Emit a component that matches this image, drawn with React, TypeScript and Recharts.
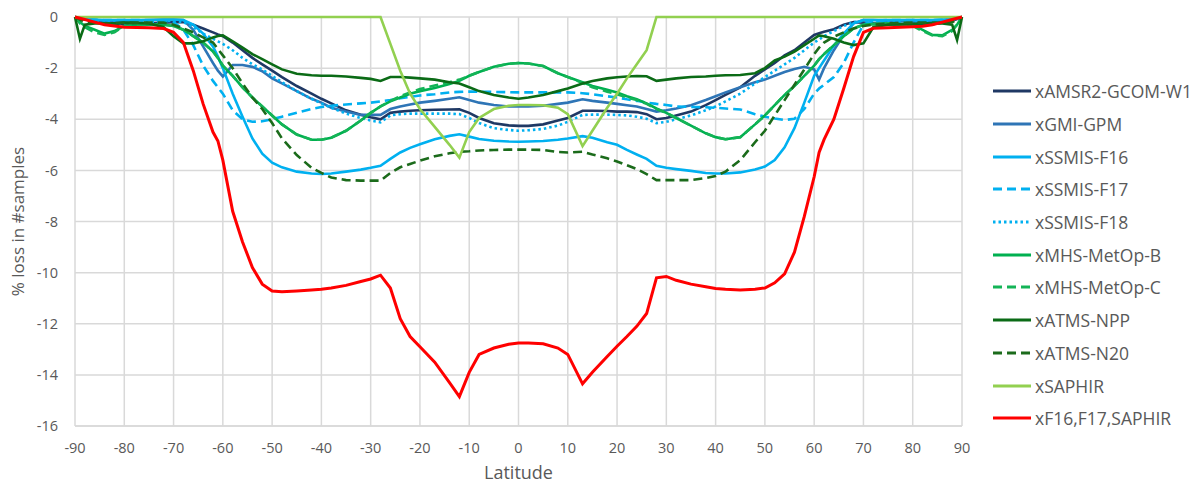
import { LineChart, Line, XAxis, YAxis, CartesianGrid, Legend } from "recharts";

const FONT = "'Open Sans', sans-serif";
const TEXT = "#595959";
const GRID = "#D9D9D9";

// latitude samples (degrees)
const LAT = [
  -90, -89, -88, -86, -84, -82, -80, -75, -72, -70,
  -68, -66, -64, -62, -61, -60, -58, -56, -54, -52,
  -50, -48, -45, -42, -40, -38, -35, -32, -30, -28,
  -26, -24, -22, -20, -17, -14, -12, -10, -8, -5,
  -2, 0, 2, 5, 8, 10, 13, 15, 18, 20,
  22, 24, 26, 28, 30, 32, 35, 38, 40, 42,
  45, 48, 50, 52, 54, 56, 58, 60, 61, 62,
  64, 66, 68, 70, 72, 75, 80, 82, 84, 86,
  88, 89, 90,
];

const AMSR2 = [
  0, -0.05, -0.1, -0.15, -0.2, -0.25, -0.28, -0.25, -0.22, -0.2,
  -0.2, -0.3, -0.45, -0.6, -0.68, -0.75, -1.0, -1.3, -1.6, -1.85,
  -2.1, -2.35, -2.7, -3.0, -3.2, -3.38, -3.65, -3.82, -3.92, -4.0,
  -3.75, -3.7, -3.67, -3.65, -3.63, -3.62, -3.61, -3.75, -3.95, -4.16,
  -4.24, -4.26, -4.26, -4.2, -4.05, -3.95, -3.67, -3.67, -3.68, -3.7,
  -3.7, -3.72, -3.8, -4.0, -3.95, -3.85, -3.7, -3.45, -3.25, -3.05,
  -2.75, -2.3, -2.05, -1.8, -1.5, -1.3, -1.0, -0.7, -0.64, -0.58,
  -0.48, -0.3, -0.2, -0.22, -0.25, -0.28, -0.3, -0.3, -0.28, -0.22,
  -0.15, -0.08, 0,
];

const GMI = [
  0, -0.05, -0.1, -0.12, -0.15, -0.15, -0.15, -0.12, -0.1, -0.1,
  -0.12, -0.5, -1.15, -1.8, -2.1, -2.33, -1.88, -1.88, -1.95, -2.12,
  -2.4, -2.6, -2.9, -3.2, -3.35, -3.55, -3.7, -3.83, -3.83, -3.83,
  -3.6, -3.5, -3.42, -3.35, -3.28, -3.2, -3.14, -3.25, -3.35, -3.44,
  -3.5, -3.5, -3.5, -3.47, -3.4, -3.35, -3.22, -3.28, -3.35, -3.4,
  -3.45, -3.5, -3.6, -3.7, -3.65, -3.58, -3.45, -3.25, -3.1, -2.95,
  -2.75, -2.55, -2.45, -2.3, -2.15, -2.03, -1.95, -2.05, -2.45, -2.0,
  -1.3, -0.7, -0.25, -0.12, -0.12, -0.15, -0.18, -0.18, -0.18, -0.15,
  -0.1, -0.05, 0,
];

const F16 = [
  0, -0.05, -0.08, -0.1, -0.12, -0.12, -0.12, -0.12, -0.1, -0.1,
  -0.12, -0.3, -0.65, -1.15, -1.55, -2.0, -3.0, -3.9, -4.75, -5.35,
  -5.7, -5.88, -6.05, -6.12, -6.14, -6.12, -6.05, -5.97, -5.9, -5.82,
  -5.55, -5.3, -5.12, -4.98, -4.78, -4.65, -4.59, -4.68, -4.77, -4.84,
  -4.87, -4.88, -4.87, -4.85, -4.8, -4.75, -4.66, -4.72, -4.9, -5.0,
  -5.2, -5.38, -5.55, -5.82, -5.9, -5.95, -6.02, -6.1, -6.12, -6.12,
  -6.08, -5.97, -5.85, -5.6, -5.1, -4.35, -3.35, -2.3, -2.0, -1.7,
  -1.12, -0.65, -0.25, -0.12, -0.12, -0.12, -0.12, -0.12, -0.12, -0.1,
  -0.08, -0.05, 0,
];

const F17 = [
  0, -0.05, -0.08, -0.1, -0.12, -0.12, -0.12, -0.12, -0.15, -0.2,
  -0.5, -1.1, -1.9, -2.5, -2.75, -3.0, -3.65, -4.0, -4.1, -4.08,
  -4.0, -3.9, -3.75, -3.6, -3.52, -3.47, -3.42, -3.38, -3.35, -3.3,
  -3.25, -3.18, -3.12, -3.07, -3.02, -2.95, -2.93, -2.92, -2.92, -2.93,
  -2.94, -2.95, -2.95, -2.95, -2.95, -2.95, -2.98, -3.02, -3.1, -3.15,
  -3.22, -3.28, -3.35, -3.4, -3.44, -3.5, -3.52, -3.53, -3.55, -3.58,
  -3.62, -3.8, -3.9, -3.97, -4.03, -3.98, -3.6, -3.0, -2.8, -2.65,
  -2.35, -1.8, -1.0, -0.3, -0.15, -0.12, -0.12, -0.12, -0.12, -0.1,
  -0.08, -0.05, 0,
];

const F18 = [
  0, -0.05, -0.1, -0.15, -0.2, -0.22, -0.25, -0.2, -0.15, -0.15,
  -0.2, -0.4, -0.65, -0.85, -0.95, -1.05, -1.3, -1.6, -1.85, -2.05,
  -2.3, -2.55, -2.9, -3.2, -3.38, -3.55, -3.78, -3.95, -4.05, -4.12,
  -3.85, -3.8, -3.78, -3.78, -3.78, -3.78, -3.8, -3.95, -4.15, -4.35,
  -4.42, -4.45, -4.43, -4.38, -4.25, -4.1, -3.83, -3.82, -3.82, -3.83,
  -3.85, -3.9, -3.98, -4.15, -4.1, -4.0, -3.85, -3.65, -3.5, -3.3,
  -3.0, -2.6, -2.35, -2.1, -1.85, -1.6, -1.3, -1.0, -0.88, -0.75,
  -0.55, -0.35, -0.2, -0.15, -0.15, -0.2, -0.22, -0.22, -0.2, -0.18,
  -0.12, -0.06, 0,
];

const MHS_B = [
  0, -0.2, -0.35, -0.5, -0.65, -0.55, -0.35, -0.3, -0.3, -0.35,
  -0.5, -0.75, -1.0, -1.35, -1.6, -1.9, -2.3, -2.75, -3.15, -3.5,
  -3.85, -4.2, -4.6, -4.8, -4.8, -4.72, -4.45, -4.05, -3.75, -3.5,
  -3.3, -3.15, -3.0, -2.9, -2.78, -2.62, -2.5, -2.3, -2.15, -1.95,
  -1.83, -1.8, -1.82, -1.92, -2.2, -2.35, -2.55, -2.7, -2.85, -2.95,
  -3.1, -3.22, -3.38, -3.58, -3.75, -3.95, -4.25, -4.55, -4.7, -4.78,
  -4.7, -4.2, -3.85, -3.45, -3.05, -2.7, -2.3, -1.9, -1.65, -1.45,
  -1.1, -0.75, -0.45, -0.3, -0.28, -0.25, -0.3, -0.5, -0.7, -0.72,
  -0.5, -0.3, 0,
];

const MHS_C = [
  0, -0.25, -0.4, -0.6, -0.7, -0.6, -0.35, -0.3, -0.3, -0.35,
  -0.5, -0.75, -1.0, -1.35, -1.6, -1.9, -2.3, -2.75, -3.15, -3.5,
  -3.85, -4.2, -4.6, -4.8, -4.8, -4.72, -4.45, -4.05, -3.75, -3.5,
  -3.28, -3.1, -2.95, -2.82, -2.68, -2.55, -2.45, -2.3, -2.15, -1.95,
  -1.83, -1.8, -1.82, -1.92, -2.2, -2.35, -2.58, -2.75, -2.92, -3.02,
  -3.15, -3.25, -3.4, -3.6, -3.75, -3.95, -4.25, -4.55, -4.7, -4.78,
  -4.7, -4.2, -3.85, -3.45, -3.05, -2.7, -2.3, -1.9, -1.65, -1.45,
  -1.1, -0.75, -0.45, -0.3, -0.28, -0.25, -0.35, -0.55, -0.72, -0.75,
  -0.55, -0.3, 0,
];

const ATMS_NPP = [
  0, -0.85, -0.3, -0.25, -0.25, -0.25, -0.22, -0.25, -0.4, -0.75,
  -1.03, -1.03, -0.95, -0.8, -0.74, -0.72, -0.95, -1.2, -1.45, -1.65,
  -1.85, -2.05, -2.22, -2.28, -2.3, -2.3, -2.33, -2.38, -2.42, -2.5,
  -2.35, -2.35, -2.37, -2.4, -2.45, -2.55, -2.6, -2.75, -2.9, -3.05,
  -3.15, -3.2, -3.15, -3.05, -2.9, -2.8, -2.6, -2.5, -2.4, -2.36,
  -2.33, -2.31, -2.32, -2.5, -2.45, -2.4, -2.35, -2.33, -2.3, -2.28,
  -2.27, -2.2, -2.0, -1.7, -1.55, -1.35, -1.1, -0.85, -0.72, -0.75,
  -0.85, -1.0, -1.1, -1.03, -0.4, -0.3, -0.27, -0.25, -0.25, -0.25,
  -0.3, -0.9, 0,
];

const ATMS_N20 = [
  0, -0.1, -0.2, -0.22, -0.25, -0.25, -0.22, -0.22, -0.22, -0.3,
  -0.45, -0.6, -0.8, -1.0, -1.25, -1.5, -2.0, -2.6, -3.15, -3.6,
  -4.15, -4.75, -5.4, -5.9, -6.1, -6.28, -6.38, -6.4, -6.4, -6.4,
  -6.1, -5.88, -5.75, -5.62, -5.45, -5.33, -5.27, -5.25, -5.22, -5.2,
  -5.19, -5.19, -5.19, -5.2, -5.28, -5.3, -5.27, -5.38, -5.53, -5.65,
  -5.8, -5.95, -6.15, -6.38, -6.38, -6.38, -6.38, -6.3, -6.22, -6.05,
  -5.6, -4.9, -4.45, -3.85, -3.25, -2.65, -2.05, -1.45, -1.2, -1.0,
  -0.77, -0.6, -0.45, -0.35, -0.3, -0.25, -0.22, -0.22, -0.22, -0.22,
  -0.2, -0.1, 0,
];

const SAPHIR = [
  0, 0, 0, 0, 0, 0, 0, 0, 0, 0,
  0, 0, 0, 0, 0, 0, 0, 0, 0, 0,
  0, 0, 0, 0, 0, 0, 0, 0, 0, 0,
  -1.05, -2.1, -3.0, -3.6, -4.3, -5.0, -5.5, -4.5, -3.95, -3.6,
  -3.47, -3.44, -3.44, -3.45, -3.55, -3.8, -5.05, -4.45, -3.55, -3.0,
  -2.4, -1.85, -1.3, 0, 0, 0, 0, 0, 0, 0,
  0, 0, 0, 0, 0, 0, 0, 0, 0, 0,
  0, 0, 0, 0, 0, 0, 0, 0, 0, 0,
  0, 0, 0,
];

const COMBINED = [
  0, -0.05, -0.1, -0.2, -0.3, -0.35, -0.4, -0.42, -0.45, -0.6,
  -1.0, -2.1, -3.4, -4.5, -4.85, -5.6, -7.6, -8.8, -9.8, -10.45,
  -10.72, -10.75, -10.72, -10.68, -10.65, -10.6, -10.5, -10.35, -10.25, -10.1,
  -10.6, -11.8, -12.5, -12.9, -13.5, -14.3, -14.85, -13.9, -13.2, -12.95,
  -12.8, -12.75, -12.75, -12.78, -12.95, -13.2, -14.35, -13.9, -13.28, -12.88,
  -12.5, -12.1, -11.6, -10.2, -10.15, -10.3, -10.45, -10.55, -10.62, -10.65,
  -10.68, -10.65, -10.6, -10.4, -10.05, -9.2, -7.8, -6.25, -5.3, -4.8,
  -4.0, -2.8, -1.55, -0.6, -0.44, -0.42, -0.38, -0.36, -0.3, -0.2,
  -0.1, -0.05, 0,
];

const X_TICKS = [-90, -80, -70, -60, -50, -40, -30, -20, -10, 0, 10, 20, 30, 40, 50, 60, 70, 80, 90];
const Y_TICKS = [-16, -14, -12, -10, -8, -6, -4, -2, 0];

const SERIES = [
  { key: "amsr2", name: "xAMSR2-GCOM-W1", values: AMSR2, color: "#1f3864", dash: undefined },
  { key: "gmi", name: "xGMI-GPM", values: GMI, color: "#2e75b6", dash: undefined },
  { key: "f16", name: "xSSMIS-F16", values: F16, color: "#00b0f0", dash: undefined },
  { key: "f17", name: "xSSMIS-F17", values: F17, color: "#00b0f0", dash: "9 5" },
  { key: "f18", name: "xSSMIS-F18", values: F18, color: "#00b0f0", dash: "2.5 3" },
  { key: "mhsb", name: "xMHS-MetOp-B", values: MHS_B, color: "#00b050", dash: undefined },
  { key: "mhsc", name: "xMHS-MetOp-C", values: MHS_C, color: "#14b457", dash: "9 5" },
  { key: "npp", name: "xATMS-NPP", values: ATMS_NPP, color: "#0b6b16", dash: undefined },
  { key: "n20", name: "xATMS-N20", values: ATMS_N20, color: "#1b6b1b", dash: "9 5" },
  { key: "saphir", name: "xSAPHIR", values: SAPHIR, color: "#92d050", dash: undefined },
  { key: "combo", name: "xF16,F17,SAPHIR", values: COMBINED, color: "#ff0000", dash: undefined },
];

const data = LAT.map((lat, i) => {
  const row: Record<string, number> = { lat };
  SERIES.forEach((s) => {
    row[s.key] = s.values[i];
  });
  return row;
});

const ChartLegend = () => (
  <div style={{ fontFamily: FONT, fontSize: 17.5, color: TEXT }}>
    {SERIES.map((s) => (
      <div key={s.key} style={{ display: "flex", alignItems: "center", height: 32.7, whiteSpace: "nowrap" }}>
        <svg width={40} height={6} style={{ marginRight: 3 }}>
          <line x1={1} y1={3} x2={39} y2={3} stroke={s.color} strokeWidth={3} strokeDasharray={s.dash} />
        </svg>
        <span>{s.name}</span>
      </div>
    ))}
  </div>
);

export default function App() {
  return (
    <div style={{ position: "absolute", left: 0, top: 0, background: "#fff" }}>
      <LineChart width={1204} height={488} data={data} margin={{ top: 17, right: 242, bottom: 0, left: 0 }}>
        <CartesianGrid stroke={GRID} strokeWidth={1.5} />
        <XAxis
          dataKey="lat"
          type="number"
          domain={[-90, 90]}
          ticks={X_TICKS}
          interval={0}
          height={62}
          axisLine={{ stroke: GRID, strokeWidth: 1.5 }}
          tickLine={false}
          tickSize={6}
          tickMargin={11}
          tick={{ fill: TEXT, fontSize: 14.5, fontFamily: FONT }}
          label={{ value: "Latitude", position: "insideBottom", offset: 9, fill: TEXT, fontSize: 18, fontFamily: FONT }}
        />
        <YAxis
          type="number"
          domain={[-16, 0]}
          ticks={Y_TICKS}
          interval={0}
          width={75}
          axisLine={false}
          tickLine={false}
          tickSize={6}
          tickMargin={11}
          tick={{ fill: TEXT, fontSize: 14.5, fontFamily: FONT }}
          label={{
            value: "% loss in #samples",
            angle: -90,
            position: "insideLeft",
            offset: 18,
            fill: TEXT,
            fontSize: 17,
            fontFamily: FONT,
            style: { textAnchor: "middle" },
          }}
        />
        <Legend
          layout="vertical"
          align="center"
          verticalAlign="middle"
          wrapperStyle={{ left: 992, top: 75, width: 212 }}
          content={() => <ChartLegend />}
        />
        {SERIES.map((s) => (
          <Line
            key={s.key}
            type="linear"
            dataKey={s.key}
            name={s.name}
            stroke={s.color}
            strokeWidth={s.key === "combo" ? 3 : 2.6}
            strokeDasharray={s.dash}
            dot={false}
            activeDot={false}
            isAnimationActive={false}
          />
        ))}
      </LineChart>
    </div>
  );
}
